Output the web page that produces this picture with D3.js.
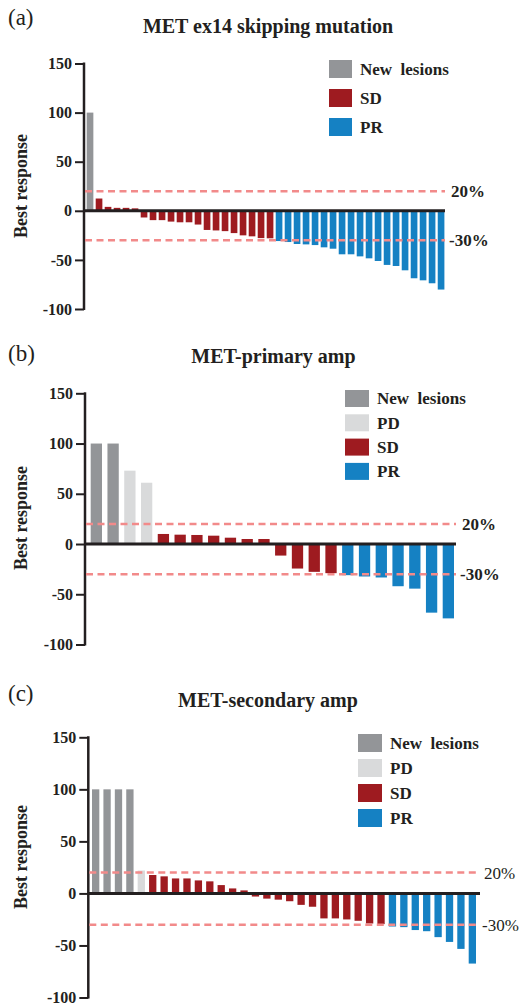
<!DOCTYPE html>
<html>
<head>
<meta charset="utf-8">
<script src="https://cdn.jsdelivr.net/npm/d3@7"></script>
<style>
  body { margin: 0; background: #fff; }
  svg text { font-family: "Liberation Serif", "Times New Roman", serif; fill: #231f20; }
</style>
</head>
<body>
<div id="target"></div>
<script>
// values
let yTicks = [-100, -50, 0, 50, 100, 150];
let thresholds = [20, -30];
let thresholdLabels = ["20%", "-30%"];

let aTitle = "MET ex14 skipping mutation";
let aNew = [100];
let aSD = [12.5, 4, 3, 3, 2.5, -6.8, -9.5, -9.5, -11, -11.7, -11.7, -14, -19.5, -20, -20.7, -22.7, -25, -26, -27.8, -28];
let aPR = [-30.8, -31.8, -33.8, -34.2, -34.9, -37.2, -38.6, -44.3, -44.3, -46.4, -48.4, -51.1, -55.1, -56.2, -60.6, -68.7, -70.8, -73.8, -80.2];

let bTitle = "MET-primary amp";
let bNew = [100, 100];
let bPD = [73, 61];
let bSD = [10, 9.3, 9, 8.3, 6.3, 5, 5, -11.5, -24.4, -27.7, -29];
let bPR = [-31, -32.3, -33.3, -42, -44.4, -68.3, -74];

let cTitle = "MET-secondary amp";
let cNew = [100, 100, 100, 100];
let cPD = [22];
let cSD = [17.7, 16.4, 14.4, 14.4, 12.5, 11.6, 8, 4.8, 2.9, -3, -5, -6, -7.5, -11, -12.8, -24, -24, -25, -26.3, -28.9, -29.5];
let cPR = [-31.8, -32.4, -35.2, -36.3, -42, -46.6, -53.3, -67.4];

let color = {
  "New  lesions": "#939598",
  "PD": "#d9dadb",
  "SD": "#9e1b20",
  "PR": "#1581c3"
};

let width = 522,
  height = 1003;

let svg = d3.select("#target").append("svg")
  .attr("width", width)
  .attr("height", height);

function drawPanel(p) {
  let data = [];
  p.groups.forEach(function (g) {
    g.values.forEach(function (v) { data.push({ cat: g.name, value: v }); });
  });

  let g = svg.append("g");

  let x = d3.scaleBand()
    .domain(d3.range(data.length))
    .range(p.band)
    .paddingInner(p.pad)
    .paddingOuter(0);

  let y = d3.scaleLinear().domain([-100, 150]).range(p.yRange);

  // tag + title
  g.append("text")
    .attr("x", 8).attr("y", p.tagY)
    .style("font-size", "23px")
    .text(p.tag);
  g.append("text")
    .attr("x", p.titleX).attr("y", p.titleY)
    .attr("text-anchor", "middle")
    .style("font-size", "20px").style("font-weight", "bold")
    .text(p.title);

  // y axis
  let yAxis = d3.axisLeft(y)
    .tickValues(yTicks)
    .tickFormat(function (d) { return String(d); })
    .tickSize(9)
    .tickPadding(3);
  let ax = g.append("g")
    .attr("transform", "translate(" + p.axisX + ",0)")
    .call(yAxis);
  ax.select(".domain").attr("stroke", "#231f20").attr("stroke-width", 2.5)
    .attr("d", "M0," + (p.yRange[0] + 1) + "V" + (p.yRange[1] - 1));
  ax.selectAll(".tick line").attr("stroke", "#231f20").attr("stroke-width", 2);
  ax.selectAll(".tick text")
    .style("font-family", "'Liberation Serif', serif")
    .style("font-size", "16px").style("font-weight", "bold")
    .attr("fill", "#231f20");

  g.append("text")
    .attr("transform", "translate(" + p.labelX + "," + p.labelY + ") rotate(-90)")
    .attr("text-anchor", "middle")
    .style("font-size", "18px").style("font-weight", "bold")
    .text("Best response");

  // bars
  g.selectAll(".bar")
    .data(data)
    .enter().append("rect")
    .attr("class", "bar")
    .attr("x", function (d, i) { return x(i); })
    .attr("width", x.bandwidth())
    .attr("y", function (d) { return y(Math.max(0, d.value)); })
    .attr("height", function (d) { return Math.abs(y(d.value) - y(0)); })
    .attr("fill", function (d) { return color[d.cat]; });

  // zero line
  g.append("line")
    .attr("x1", p.axisX).attr("x2", p.lineEnd)
    .attr("y1", y(0)).attr("y2", y(0))
    .attr("stroke", "#231f20").attr("stroke-width", 3);

  // threshold lines
  thresholds.forEach(function (t, i) {
    g.append("line")
      .attr("x1", p.axisX + 1).attr("x2", p.lineEnd)
      .attr("y1", y(t)).attr("y2", y(t))
      .attr("stroke", "#f28a8a").attr("stroke-width", 2.5)
      .attr("stroke-dasharray", "7,4.5");
    g.append("text")
      .attr("x", p.threshX + (i == 1 ? -1 : 1)).attr("y", y(t))
      .attr("dy", "0.35em")
      .style("font-size", "17px")
      .style("font-weight", p.threshBold ? "bold" : "normal")
      .text(thresholdLabels[i]);
  });

  // legend
  let leg = g.selectAll(".leg")
    .data(p.groups)
    .enter().append("g")
    .attr("transform", function (d, i) { return "translate(" + p.legX + "," + (p.legY + i * p.legGap) + ")"; });
  leg.append("rect")
    .attr("width", p.legW).attr("height", p.legH)
    .attr("fill", function (d) { return color[d.name]; });
  leg.append("text")
    .attr("x", p.legW + 8).attr("y", p.legH / 2)
    .attr("dy", "0.35em")
    .style("font-size", "17px").style("font-weight", "bold")
    .style("white-space", "pre")
    .text(function (d) { return d.name; });
}

drawPanel({
  tag: "(a)", tagY: 25, title: aTitle, titleX: 268, titleY: 33,
  groups: [{ name: "New  lesions", values: aNew }, { name: "SD", values: aSD }, { name: "PR", values: aPR }],
  axisX: 84, yRange: [309, 63.5], band: [86.7, 444.4], pad: 0.26, lineEnd: 445,
  labelX: 27, labelY: 186, threshX: 450, threshBold: true,
  legX: 329, legY: 60, legW: 23, legH: 18, legGap: 29
});

drawPanel({
  tag: "(b)", tagY: 361, title: bTitle, titleX: 273.5, titleY: 363,
  groups: [{ name: "New  lesions", values: bNew }, { name: "PD", values: bPD }, { name: "SD", values: bSD }, { name: "PR", values: bPR }],
  axisX: 85, yRange: [644.5, 393.3], band: [90.7, 454], pad: 0.326, lineEnd: 456,
  labelX: 27, labelY: 518, threshX: 461, threshBold: true,
  legX: 345, legY: 390, legW: 24, legH: 17, legGap: 24.3
});

drawPanel({
  tag: "(c)", tagY: 701, title: cTitle, titleX: 268, titleY: 707,
  groups: [{ name: "New  lesions", values: cNew }, { name: "PD", values: cPD }, { name: "SD", values: cSD }, { name: "PR", values: cPR }],
  axisX: 88.3, yRange: [997.5, 737.3], band: [92, 476], pad: 0.36, lineEnd: 480,
  labelX: 27, labelY: 857, threshX: 483, threshBold: false,
  legX: 358, legY: 734, legW: 24, legH: 18, legGap: 25
});
</script>
</body>
</html>
